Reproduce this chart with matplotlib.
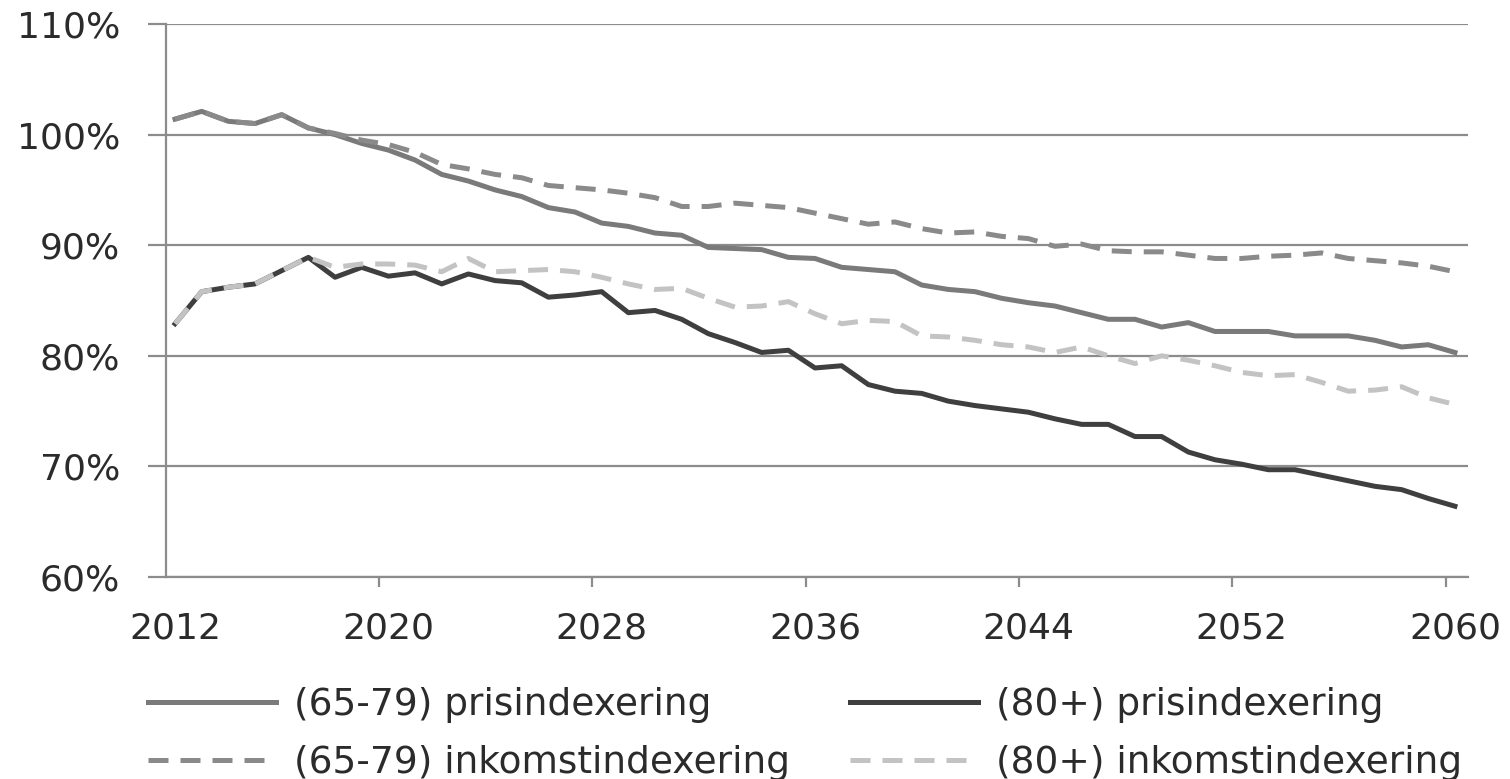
import matplotlib
matplotlib.use("Agg")
import matplotlib.pyplot as plt
from matplotlib.ticker import PercentFormatter, FixedLocator
import numpy as np

years = list(range(2012, 2061))

pris_65_79 = [101.4, 102.1, 101.2, 101.0, 101.8, 100.6, 100.0, 99.2, 98.6, 97.7,
              96.4, 95.8, 95.0, 94.4, 93.4, 93.0, 92.0, 91.7, 91.1, 90.9,
              89.8, 89.7, 89.6, 88.9, 88.8, 88.0, 87.8, 87.6, 86.4, 86.0,
              85.8, 85.2, 84.8, 84.5, 83.9, 83.3, 83.3, 82.6, 83.0, 82.2,
              82.2, 82.2, 81.8, 81.8, 81.8, 81.4, 80.8, 81.0, 80.3]

pris_80 = [82.9, 85.8, 86.2, 86.5, 87.7, 88.9, 87.1, 88.0, 87.2, 87.5,
           86.5, 87.4, 86.8, 86.6, 85.3, 85.5, 85.8, 83.9, 84.1, 83.3,
           82.0, 81.2, 80.3, 80.5, 78.9, 79.1, 77.4, 76.8, 76.6, 75.9,
           75.5, 75.2, 74.9, 74.3, 73.8, 73.8, 72.7, 72.7, 71.3, 70.6,
           70.2, 69.7, 69.7, 69.2, 68.7, 68.2, 67.9, 67.1, 66.4]

inkomst_65_79 = [101.4, 102.1, 101.2, 101.0, 101.8, 100.6, 100.1, 99.5, 99.1, 98.4,
                 97.3, 96.9, 96.4, 96.1, 95.4, 95.2, 95.0, 94.7, 94.3, 93.5,
                 93.5, 93.8, 93.6, 93.4, 92.9, 92.4, 91.9, 92.1, 91.5, 91.1,
                 91.2, 90.8, 90.6, 89.9, 90.1, 89.5, 89.4, 89.4, 89.1, 88.8,
                 88.8, 89.0, 89.1, 89.3, 88.8, 88.6, 88.4, 88.1, 87.6]

inkomst_80 = [82.9, 85.8, 86.2, 86.5, 87.7, 88.9, 88.0, 88.3, 88.3, 88.2,
              87.6, 88.8, 87.6, 87.7, 87.8, 87.6, 87.1, 86.5, 86.0, 86.1,
              85.2, 84.4, 84.5, 84.9, 83.8, 82.9, 83.2, 83.1, 81.8, 81.7,
              81.4, 81.0, 80.8, 80.3, 80.8, 80.0, 79.3, 80.0, 79.6, 79.1,
              78.5, 78.2, 78.3, 77.6, 76.8, 76.9, 77.2, 76.2, 75.6]

labels = ["(65-79) prisindexering", "(80+) prisindexering",
          "(65-79) inkomstindexering", "(80+) inkomstindexering"]

x_tick_years = [2012, 2020, 2028, 2036, 2044, 2052, 2060]
y_ticks = [60, 70, 80, 90, 100, 110]

plt.rcParams['font.family'] = ['DejaVu Sans']
text_color = '#2b2b2b'
grid_color = '#8c8c8c'

fig = plt.figure(figsize=(15.10, 7.79), dpi=100)
ax = fig.add_axes([166/1510, 1-577/779, (1468-166)/1510, (577-24)/779])

lw = 3.6
l1, = ax.plot(years, pris_65_79, color='#7a7a7a', lw=lw, solid_joinstyle='round', label=labels[0])
l2, = ax.plot(years, pris_80, color='#3f3f3f', lw=lw, solid_joinstyle='round', label=labels[1])
l3, = ax.plot(years, inkomst_65_79, color='#8a8a8a', lw=lw, dashes=(4, 2.4), label=labels[2])
l4, = ax.plot(years, inkomst_80, color='#c3c3c3', lw=lw, dashes=(4, 2.4), label=labels[3])

ax.set_ylim(60, 110)
ax.set_xlim(2011.66, 2060.49)
ax.set_yticks(y_ticks)
ax.yaxis.set_major_formatter(PercentFormatter(xmax=100, decimals=0))
ax.set_xticks(x_tick_years)
ax.set_xticklabels([str(y) for y in x_tick_years])
ax.xaxis.set_minor_locator(FixedLocator([y - 0.35 for y in x_tick_years]))

ax.grid(axis='y', color=grid_color, lw=1.6)
ax.set_axisbelow(True)
for s in ['top', 'right']:
    ax.spines[s].set_visible(False)
for s in ['left', 'bottom']:
    ax.spines[s].set_color(grid_color)
    ax.spines[s].set_linewidth(1.6)

ax.tick_params(axis='y', length=13, width=1.6, color=grid_color, labelsize=26,
               labelcolor=text_color, pad=20)
ax.tick_params(axis='x', which='major', length=0, labelsize=26, labelcolor=text_color, pad=25)
ax.tick_params(axis='x', which='minor', length=7, width=1.6, color=grid_color)

fig.legend(handles=[l1, l3, l2, l4], labels=[labels[0], labels[2], labels[1], labels[3]],
           ncol=2, loc='upper left', bbox_to_anchor=(148/1510, 1-687/779),
           frameon=False, fontsize=27, handlelength=3.4, handletextpad=0.5,
           columnspacing=1.6, labelspacing=0.58, borderaxespad=0, borderpad=0,
           labelcolor=text_color)

fig.savefig('out.png', dpi=100)
